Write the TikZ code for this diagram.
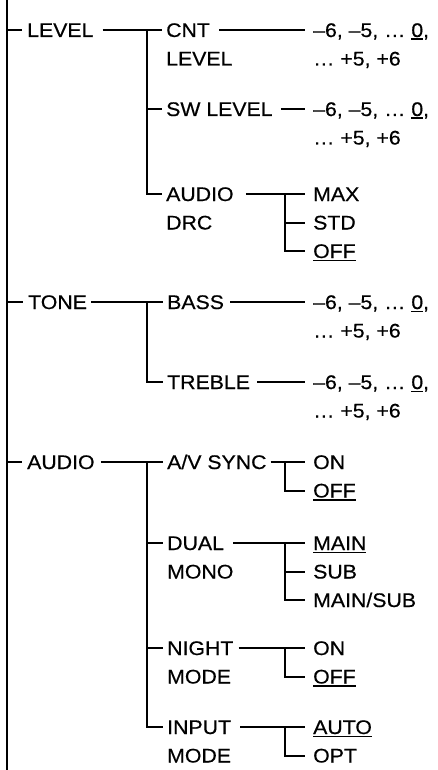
\documentclass[tikz,border=0pt]{standalone}
\usepackage{fontspec}
\setmainfont{Liberation Sans}[FakeStretch=1.08,FakeBold=0.5]
\newcommand\myul[1]{\setbox0\hbox{#1}\rlap{\rule[-3pt]{\wd0}{1.5pt}}\box0}
\begin{document}
\begin{tikzpicture}[x=1pt,y=-1pt,
  txt/.style={anchor=west,inner sep=0pt,text height=14pt,text depth=0pt,font=\fontsize{19.7}{24}\selectfont},
  ln/.style={line width=2pt}]
\useasboundingbox (0,0) rectangle (437,770);
% level 1
\node[txt] (level) at (27,30) {LEVEL};
\node[txt] (tone) at (28,302) {TONE};
\node[txt] (audio) at (27,462) {AUDIO};
% level 2
\node[txt] (cnt) at (166,30) {CNT};
\node[txt] (cnt2) at (166,58.5) {LEVEL};
\node[txt] (sw) at (166,109) {SW LEVEL};
\node[txt] (drc) at (166,194) {AUDIO};
\node[txt] (drc2) at (166,222.5) {DRC};
\node[txt] (bass) at (167,302) {BASS};
\node[txt] (treble) at (167,382) {TREBLE};
\node[txt] (avs) at (167,462) {A/V SYNC};
\node[txt] (dual) at (167,543) {DUAL};
\node[txt] (dual2) at (167,571.5) {MONO};
\node[txt] (night) at (167,648) {NIGHT};
\node[txt] (night2) at (167,676.5) {MODE};
\node[txt] (input) at (167,727) {INPUT};
\node[txt] (input2) at (167,755.5) {MODE};
% level 3 values
\node[txt] (vcnt) at (313,30) {–6, –5, … \myul{0},};
\node[txt] (vcnt2) at (313,58.5) {… +5, +6};
\node[txt] (vsw) at (313,109) {–6, –5, … \myul{0},};
\node[txt] (vsw2) at (313,137.5) {… +5, +6};
\node[txt] (max) at (313,194) {MAX};
\node[txt] (std) at (313,222.5) {STD};
\node[txt] (offa) at (313,251) {\myul{OFF}};
\node[txt] (vbass) at (313,302) {–6, –5, … \myul{0},};
\node[txt] (vbass2) at (313,330.5) {… +5, +6};
\node[txt] (vtre) at (313,382) {–6, –5, … \myul{0},};
\node[txt] (vtre2) at (313,410.5) {… +5, +6};
\node[txt] (ona) at (313,462) {ON};
\node[txt] (offb) at (313,490.5) {\myul{OFF}};
\node[txt] (main) at (313,543) {\myul{MAIN}};
\node[txt] (sub) at (313,571.5) {SUB};
\node[txt] (mainsub) at (313,600) {MAIN/SUB};
\node[txt] (onb) at (313,648) {ON};
\node[txt] (offc) at (313,676.5) {\myul{OFF}};
\node[txt] (auto) at (313,727) {\myul{AUTO}};
\node[txt] (opt) at (313,755.5) {OPT};
% coordinates
\coordinate (top) at (7,0);
\coordinate (bot) at (7,770);
\coordinate (bx) at (147,0);
\coordinate (cx) at (285,0);
% main spine
\draw[ln] (top) -- (bot);
\foreach \n in {level,tone,audio} \draw[ln] (top |- \n.west) -- ([xshift=-5pt]\n.west);
% LEVEL
\draw[ln] ([xshift=9pt]level.east) -- ([xshift=-4pt]cnt.west);
\draw[ln] (bx |- cnt.west) |- ([xshift=-4pt]drc.west);
\draw[ln] (bx |- sw.west) -- ([xshift=-4pt]sw.west);
\draw[ln] ([xshift=9pt]cnt.east) -- ([xshift=-8pt]vcnt.west);
\draw[ln] ([xshift=8pt]sw.east) -- ([xshift=-8pt]vsw.west);
\draw[ln] ([xshift=12pt]drc.east) -- ([xshift=-8pt]max.west);
\draw[ln] (cx |- max.west) |- ([xshift=-8pt]offa.west);
\draw[ln] (cx |- std.west) -- ([xshift=-8pt]std.west);
% TONE
\draw[ln] ([xshift=4pt]tone.east) -- ([xshift=-4pt]bass.west);
\draw[ln] (bx |- bass.west) |- ([xshift=-4pt]treble.west);
\draw[ln] ([xshift=6pt]bass.east) -- ([xshift=-8pt]vbass.west);
\draw[ln] ([xshift=7pt]treble.east) -- ([xshift=-8pt]vtre.west);
% AUDIO
\draw[ln] ([xshift=6pt]audio.east) -- ([xshift=-4pt]avs.west);
\draw[ln] (bx |- avs.west) |- ([xshift=-4pt]input.west);
\draw[ln] (bx |- dual.west) -- ([xshift=-4pt]dual.west);
\draw[ln] (bx |- night.west) -- ([xshift=-4pt]night.west);
\draw[ln] ([xshift=4pt]avs.east) -- ([xshift=-8pt]ona.west);
\draw[ln] (cx |- ona.west) |- ([xshift=-8pt]offb.west);
\draw[ln] ([xshift=9pt]dual.east) -- ([xshift=-8pt]main.west);
\draw[ln] (cx |- main.west) |- ([xshift=-8pt]mainsub.west);
\draw[ln] (cx |- sub.west) -- ([xshift=-8pt]sub.west);
\draw[ln] ([xshift=5pt]night.east) -- ([xshift=-8pt]onb.west);
\draw[ln] (cx |- onb.west) |- ([xshift=-8pt]offc.west);
\draw[ln] ([xshift=9pt]input.east) -- ([xshift=-8pt]auto.west);
\draw[ln] (cx |- auto.west) |- ([xshift=-8pt]opt.west);
\end{tikzpicture}
\end{document}
